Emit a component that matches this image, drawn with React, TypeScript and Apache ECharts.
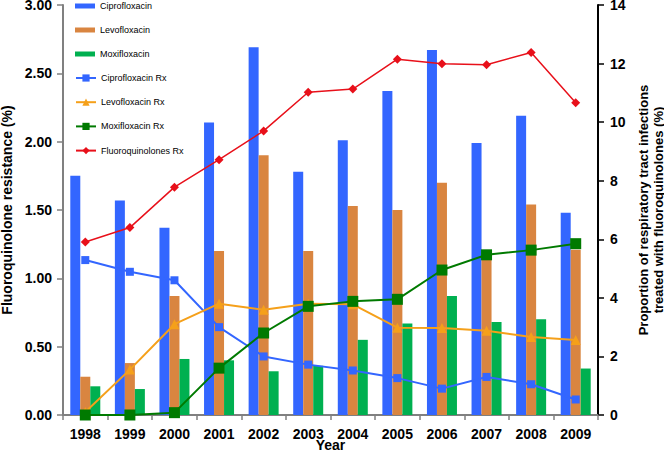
import React, { useEffect, useRef } from "react";
import * as echarts from "echarts";

const years = ["1998", "1999", "2000", "2001", "2002", "2003", "2004", "2005", "2006", "2007", "2008", "2009"];

// Resistance (%), left axis
const ciproRes = [1.75, 1.57, 1.37, 2.14, 2.69, 1.78, 2.01, 2.37, 2.67, 1.99, 2.19, 1.48];
const levoRes = [0.28, 0.38, 0.87, 1.2, 1.9, 1.2, 1.53, 1.5, 1.7, 1.17, 1.54, 1.21];
const moxiRes = [0.21, 0.19, 0.41, 0.4, 0.32, 0.36, 0.55, 0.67, 0.87, 0.68, 0.7, 0.34];

// Proportion of RTI treated (%), right axis
const ciproRx = [5.29, 4.89, 4.6, 3.0, 2.0, 1.72, 1.52, 1.26, 0.9, 1.3, 1.05, 0.53];
const levoRx = [0.1, 1.55, 3.1, 3.8, 3.59, 3.8, 3.78, 2.98, 2.97, 2.88, 2.66, 2.56];
const moxiRx = [0.0, 0.0, 0.08, 1.6, 2.8, 3.71, 3.88, 3.95, 4.95, 5.47, 5.63, 5.85];
const fqRx = [5.91, 6.4, 7.78, 8.72, 9.7, 11.02, 11.13, 12.15, 11.99, 11.96, 12.38, 10.66];

const FONT = "'Liberation Sans', Arial, sans-serif";

export default function App() {
  const ref = useRef<HTMLDivElement>(null);
  useEffect(() => {
    if (!ref.current) return;
    const chart = echarts.init(ref.current, null, { renderer: "svg" });
    const bold = { fontFamily: FONT, fontWeight: "bold" as const, fontSize: 14, color: "#000" };
    chart.setOption({
      animation: false,
      textStyle: { fontFamily: FONT },
      grid: { left: 63, right: 66, top: 5, bottom: 38, containLabel: false, outerBoundsMode: "none" },
      legend: [
        {
          orient: "vertical",
          left: 75,
          top: 0,
          padding: 0,
          itemWidth: 20,
          itemHeight: 5,
          itemGap: 12,
          textStyle: { fontFamily: FONT, fontSize: 9, color: "#000", lineHeight: 12 },
          data: [
            { name: "Ciprofloxacin", icon: "rect" },
            { name: "Levofloxacin", icon: "rect" },
            { name: "Moxifloxacin", icon: "rect" },
          ],
        },
        {
          orient: "vertical",
          left: 75,
          top: 72,
          padding: 0,
          itemWidth: 20,
          itemHeight: 9,
          itemGap: 12.2,
          textStyle: { fontFamily: FONT, fontSize: 9, color: "#000", lineHeight: 12 },
          data: ["Ciprofloxacin Rx", "Levofloxacin Rx", "Moxifloxacin Rx", "Fluoroquinolones Rx"],
        },
      ],
      xAxis: {
        type: "category",
        data: years,
        boundaryGap: true,
        axisLine: { show: true, lineStyle: { color: "#808080", width: 2 } },
        axisTick: { show: true, length: 5, lineStyle: { color: "#808080", width: 1.5 } },
        axisLabel: { ...bold, margin: 12 },
        name: "Year",
        nameLocation: "middle",
        nameGap: 23,
        nameMoveOverlap: false,
        nameTextStyle: { ...bold, lineHeight: 14 },
      },
      yAxis: [
        {
          type: "value",
          min: 0,
          max: 3,
          interval: 0.5,
          position: "left",
          axisLine: { show: true, lineStyle: { color: "#808080", width: 2 } },
          axisTick: { show: true, length: 6, lineStyle: { color: "#808080", width: 1.5 } },
          splitLine: { show: false },
          axisLabel: { ...bold, lineHeight: 12, margin: 11, formatter: (v: number) => v.toFixed(2) },
          name: "Fluoroquinolone resistance (%)",
          nameLocation: "middle",
          nameGap: 44,
          nameRotate: 90,
          nameTextStyle: { ...bold },
        },
        {
          type: "value",
          min: 0,
          max: 14,
          interval: 2,
          position: "right",
          axisLine: { show: true, lineStyle: { color: "#000", width: 2 } },
          axisTick: { show: true, length: 6, lineStyle: { color: "#000", width: 1.5 } },
          splitLine: { show: false },
          axisLabel: { ...bold, lineHeight: 12, margin: 12 },
          name: "Proportion of respiratory tract infections\ntreated with fluoroquinolones (%)",
          nameLocation: "middle",
          nameGap: 32,
          nameRotate: 90,
          nameTextStyle: { ...bold, fontSize: 13, lineHeight: 15, align: "center" },
        },
      ],
      series: [
        {
          name: "Ciprofloxacin",
          type: "bar",
          data: ciproRes,
          barWidth: 10,
          barGap: "0%",
          itemStyle: { color: "#3366FF" },
        },
        {
          name: "Levofloxacin",
          type: "bar",
          data: levoRes,
          barWidth: 10,
          barGap: "0%",
          itemStyle: { color: "#D98540" },
        },
        {
          name: "Moxifloxacin",
          type: "bar",
          data: moxiRes,
          barWidth: 10,
          barGap: "0%",
          itemStyle: { color: "#00B050" },
        },
        {
          name: "Ciprofloxacin Rx",
          type: "line",
          yAxisIndex: 1,
          data: ciproRx,
          symbol: "rect",
          symbolSize: 8,
          lineStyle: { color: "#3366FF", width: 2 },
          itemStyle: { color: "#3366FF" },
        },
        {
          name: "Levofloxacin Rx",
          type: "line",
          yAxisIndex: 1,
          data: levoRx,
          symbol: "triangle",
          symbolSize: 10,
          lineStyle: { color: "#F5A01A", width: 2 },
          itemStyle: { color: "#F5A01A" },
        },
        {
          name: "Moxifloxacin Rx",
          type: "line",
          yAxisIndex: 1,
          data: moxiRx,
          symbol: "rect",
          symbolSize: 11,
          lineStyle: { color: "#007A00", width: 2 },
          itemStyle: { color: "#007A00" },
        },
        {
          name: "Fluoroquinolones Rx",
          type: "line",
          yAxisIndex: 1,
          data: fqRx,
          symbol: "diamond",
          symbolSize: 9,
          lineStyle: { color: "#E8101A", width: 1.5 },
          itemStyle: { color: "#E8101A" },
        },
      ],
    });
    return () => chart.dispose();
  }, []);
  return <div ref={ref} style={{ width: 664, height: 453, position: "absolute", left: 0, top: 0 }} />;
}
